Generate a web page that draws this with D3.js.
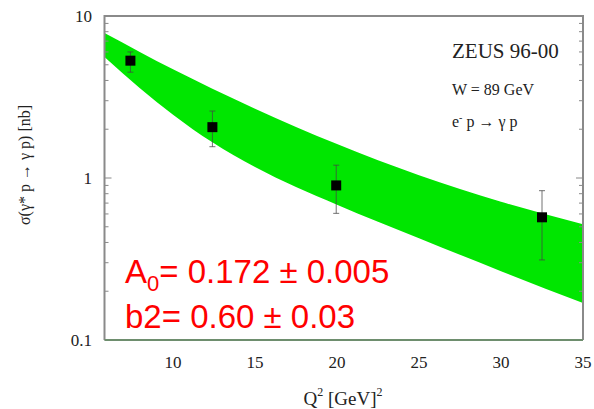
<!DOCTYPE html>
<html><head><meta charset="utf-8">
<script src="https://cdn.jsdelivr.net/npm/d3@7"></script>
<style>body{margin:0;background:#fff}svg{display:block}</style>
</head><body>
<script>
// ---- data ----
const q2Points = [7.4, 12.4, 19.95, 32.5];
const sigma = [5.3, 2.06, 0.9, 0.572];
const errHigh = [6.0, 2.59, 1.2, 0.835];
const errLow = [4.5, 1.56, 0.605, 0.312];
const bandQ2 = [5.82, 8, 10, 12.4, 15, 20, 25, 30, 35];
const bandUpper = [7.85, 5.98, 4.69, 3.56, 2.68, 1.62, 1.04, 0.713, 0.519];
const bandLower = [5.58, 3.57, 2.46, 1.66, 1.169, 0.684, 0.425, 0.266, 0.169];
const xTicks = [10, 15, 20, 25, 30, 35];
const yTicks = [0.1, 1, 10];
const yTickLabels = ["0.1", "1", "10"];

const W = 594, H = 409;
const L = 104.5, R = 583, T = 16, B = 340;
const svg = d3.select("body").append("svg").attr("width", W).attr("height", H);
const x = d3.scaleLinear().domain([5.82, 35]).range([L, R]);
const y = d3.scaleLog().domain([0.1, 10]).range([B, T]);

svg.append("clipPath").attr("id", "clip").append("rect")
  .attr("x", L).attr("y", T).attr("width", R - L).attr("height", B - T);

const bandData = bandQ2.map((q, i) => ({q, lo: bandLower[i], hi: bandUpper[i]}));
svg.append("path").datum(bandData)
  .attr("clip-path", "url(#clip)")
  .attr("fill", "#00e600")
  .attr("d", d3.area().curve(d3.curveMonotoneX)
    .x(d => x(d.q)).y0(d => y(d.lo)).y1(d => y(d.hi)));

// minor/major ticks inside frame on left & right
const logTicks = [];
for (let e = -1; e < 1; e++) for (let m = 1; m < 10; m++) logTicks.push(m * Math.pow(10, e));
logTicks.push(10);
const tg = svg.append("g").attr("stroke", "#888").attr("stroke-width", 1);
logTicks.forEach(v => {
  const major = yTicks.includes(+v.toPrecision(3));
  const len = major ? 7 : 4;
  tg.append("line").attr("x1", L).attr("x2", L + len).attr("y1", y(v)).attr("y2", y(v));
  tg.append("line").attr("x1", R).attr("x2", R - len).attr("y1", y(v)).attr("y2", y(v));
});

// frame
svg.append("path").attr("fill", "none").attr("stroke", "#8a8a8a").attr("stroke-width", 2)
  .attr("d", `M${L},${B}V${T}H${R}V${B}`);
svg.append("line").attr("x1", L).attr("x2", R).attr("y1", B).attr("y2", B)
  .attr("stroke", "#6e8e6e").attr("stroke-width", 2);

// error bars
const eg = svg.append("g").attr("stroke", "#444").attr("stroke-opacity", 0.75).attr("stroke-width", 1);
q2Points.forEach((q, i) => {
  const cx = x(q);
  eg.append("line").attr("x1", cx).attr("x2", cx).attr("y1", y(errHigh[i])).attr("y2", y(errLow[i]));
  eg.append("line").attr("x1", cx - 3).attr("x2", cx + 3).attr("y1", y(errHigh[i])).attr("y2", y(errHigh[i]));
  eg.append("line").attr("x1", cx - 3).attr("x2", cx + 3).attr("y1", y(errLow[i])).attr("y2", y(errLow[i]));
});
svg.append("g").selectAll("rect").data(q2Points).join("rect")
  .attr("x", d => x(d) - 5).attr("y", (d, i) => y(sigma[i]) - 5)
  .attr("width", 10).attr("height", 10).attr("fill", "#000");

// tick labels
const serif = "'Liberation Serif','DejaVu Serif',serif";
svg.append("g").selectAll("text").data(xTicks).join("text")
  .attr("x", d => x(d)).attr("y", 368).attr("text-anchor", "middle")
  .attr("font-family", serif).attr("font-size", 17).attr("fill", "#222").text(d => d);
svg.append("g").selectAll("text").data(yTicks).join("text")
  .attr("x", 92).attr("y", d => y(d) + 6).attr("text-anchor", "end")
  .attr("font-family", serif).attr("font-size", 17).attr("fill", "#222").text((d, i) => yTickLabels[i]);

// axis titles
const xt = svg.append("text").attr("x", 343).attr("y", 405).attr("text-anchor", "middle")
  .attr("font-family", serif).attr("font-size", 19).attr("fill", "#222");
xt.append("tspan").text("Q");
xt.append("tspan").attr("dy", -9).attr("font-size", 12).text("2");
xt.append("tspan").attr("dy", 9).text(" [GeV]");
xt.append("tspan").attr("dy", -9).attr("font-size", 12).text("2");

svg.append("text").attr("transform", "translate(30,165) rotate(-90)")
  .attr("text-anchor", "middle").attr("font-family", serif).attr("font-size", 16)
  .attr("fill", "#222").text("σ(γ* p → γ p) [nb]");

// annotations
svg.append("text").attr("x", 452).attr("y", 58).attr("font-family", serif)
  .attr("font-size", 21).attr("fill", "#222").text("ZEUS 96-00");
svg.append("text").attr("x", 452).attr("y", 95).attr("font-family", serif)
  .attr("font-size", 16).attr("fill", "#222").text("W = 89 GeV");
const ep = svg.append("text").attr("x", 452).attr("y", 127).attr("font-family", serif)
  .attr("font-size", 16).attr("fill", "#222");
ep.append("tspan").text("e");
ep.append("tspan").attr("dy", -6).attr("font-size", 10).text("-");
ep.append("tspan").attr("dy", 6).text(" p → γ p");

const sans = "'Liberation Sans','Open Sans',sans-serif";
const a0 = svg.append("text").attr("x", 125).attr("y", 283).attr("font-family", sans)
  .attr("font-size", 33).attr("fill", "#ff0000");
a0.append("tspan").text("A");
a0.append("tspan").attr("dy", 8).attr("font-size", 22).text("0");
a0.append("tspan").attr("dy", -8).text("= 0.172 ± 0.005");
svg.append("text").attr("x", 125).attr("y", 328).attr("font-family", sans)
  .attr("font-size", 33).attr("fill", "#ff0000").text("b2= 0.60 ± 0.03");
</script>
</body></html>
